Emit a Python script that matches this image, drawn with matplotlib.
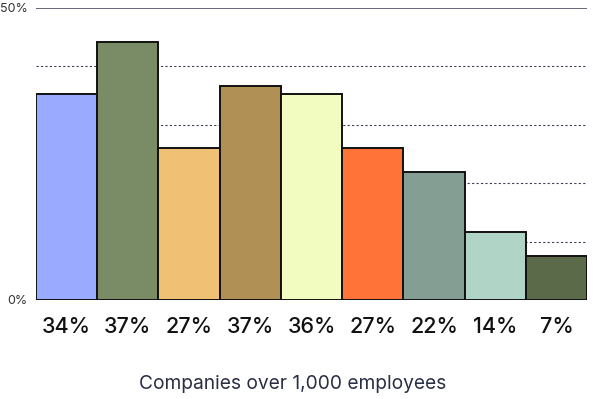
import matplotlib.pyplot as plt

plt.rcParams['font.family'] = ['Inter', 'DejaVu Sans']

labels = ["34%", "37%", "27%", "37%", "36%", "27%", "22%", "14%", "7%"]
heights = [35.3, 44.2, 26.0, 36.6, 35.3, 26.0, 22.0, 11.7, 7.5]
colors = ["#9aabff", "#7a8c66", "#f0c175", "#b09055", "#f3fcc0",
          "#ff7338", "#859e93", "#b0d4c6", "#5b6b4a"]

fig = plt.figure(figsize=(5.93, 3.99), dpi=100)
ax = fig.add_axes([36 / 593, 99 / 399, 551 / 593, 292 / 399])

x = list(range(len(heights)))
for yv in [10, 20, 30, 40]:
    ax.axhline(yv, color="#3c3f58", linewidth=0.8, linestyle=(0, (2, 2)), zorder=0)
ax.axhline(50, color="#4a4d66", linewidth=1.2, zorder=0)

ax.bar(x, heights, width=1.0, color=colors, edgecolor="#111111", linewidth=1.4, zorder=2)

ax.set_xlim(-0.5, len(heights) - 0.5)
ax.set_ylim(0, 50)
ax.set_xticks(x)
ax.set_xticklabels(labels, fontsize=15.5, color="#111111", fontweight="medium")
ax.tick_params(axis="x", length=0, pad=12)
ax.set_yticks([0, 50])
ax.set_yticklabels(["0%", "50%"], fontsize=9, color="#333333")
ax.tick_params(axis="y", length=0, pad=6)
for yl in ax.get_yticklabels():
    yl.set_verticalalignment("center_baseline")
for s in ax.spines.values():
    s.set_visible(False)

fig.text(293 / 593, 1 - 384 / 399, "Companies over 1,000 employees",
         ha="center", va="center", fontsize=13.8, color="#2a2e45")

fig.savefig("out.png", dpi=100)
